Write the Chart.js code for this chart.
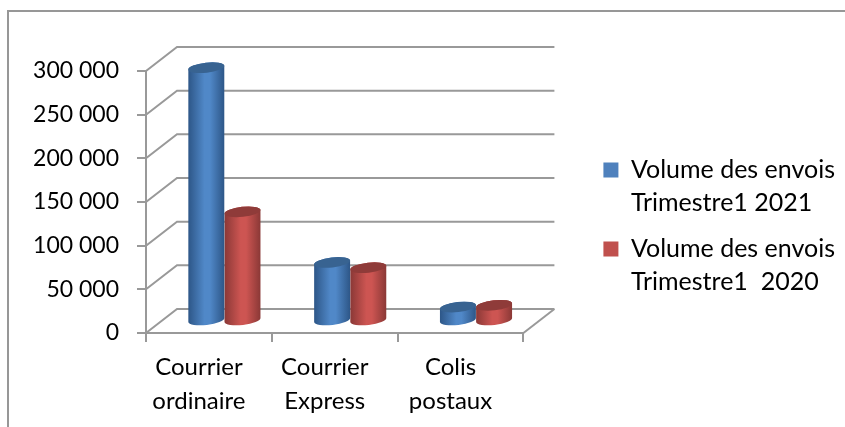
<!DOCTYPE html>
<html>
<head>
<meta charset="utf-8">
<style>
	html, body { margin: 0; padding: 0; background: #fff; }
	canvas { display: block; }
</style>
<script src="https://cdn.jsdelivr.net/npm/chart.js@4/dist/chart.umd.min.js"></script>
</head>
<body>
<canvas id="chart" width="845" height="427"></canvas>
<script>
var categories = [["Courrier", "ordinaire"], ["Courrier", "Express"], ["Colis", "postaux"]];
var label2021 = ["Volume des envois", "Trimestre1 2021"];
var label2020 = ["Volume des envois", "Trimestre1  2020"];
var volume2021 = [290000, 67000, 16000];
var volume2020 = [125000, 61000, 18000];

var GREY = "#999999";
var FONT = "Lato";
var DEPTH_X = 31;
var DEPTH_Y = 24;

/* colours of the cylinders: edge, middle, lid */
var SHADES = [
	{ edge: "#2d5687", mid: "#5088c8", lid: "#386391" },
	{ edge: "#8a3836", mid: "#cd5552", lid: "#8f3b39" }
];

function drawCylinder(ctx, bar, shade) {
	var rx = bar.width / 2;
	var ry = 5;
	var tilt = -0.11;
	var cx = bar.x + DEPTH_X / 2;
	var top = bar.y - DEPTH_Y / 2;
	var bottom = bar.base - DEPTH_Y / 2;

	var grad = ctx.createLinearGradient(cx - rx, 0, cx + rx, 0);
	grad.addColorStop(0, shade.edge);
	grad.addColorStop(0.45, shade.mid);
	grad.addColorStop(0.6, shade.mid);
	grad.addColorStop(1, shade.edge);

	ctx.beginPath();
	ctx.ellipse(cx, bottom, rx, ry, tilt, 0, Math.PI);
	ctx.ellipse(cx, top, rx, ry, tilt, Math.PI, 0);
	ctx.closePath();
	ctx.fillStyle = grad;
	ctx.fill();

	ctx.beginPath();
	ctx.ellipse(cx, top, rx, ry, tilt, 0, Math.PI * 2);
	ctx.fillStyle = shade.lid;
	ctx.fill();
}

var chart3d = {
	id: "chart3d",
	beforeDraw: function (chart) {
		/* frame of the picture, only top and left are visible */
		var ctx = chart.ctx;
		ctx.save();
		ctx.strokeStyle = "#979797";
		ctx.lineWidth = 2;
		ctx.beginPath();
		ctx.moveTo(8, 427);
		ctx.lineTo(8, 11);
		ctx.lineTo(845, 11);
		ctx.stroke();
		ctx.restore();
	},
	beforeDatasetsDraw: function (chart) {
		/* floor and back wall, one line per y tick */
		var ctx = chart.ctx;
		var y = chart.scales.y;
		var x = chart.scales.x;
		ctx.save();
		ctx.strokeStyle = GREY;
		ctx.lineWidth = 2;
		y.ticks.forEach(function (tick) {
			var py = y.getPixelForValue(tick.value);
			ctx.beginPath();
			ctx.moveTo(x.left, py);
			ctx.lineTo(x.left + DEPTH_X, py - DEPTH_Y);
			ctx.lineTo(x.right + DEPTH_X, py - DEPTH_Y);
			ctx.stroke();
		});
		var py0 = y.getPixelForValue(0);
		ctx.beginPath();
		ctx.moveTo(x.right + DEPTH_X, py0 - DEPTH_Y);
		ctx.lineTo(x.right, py0);
		ctx.stroke();
		ctx.restore();
	},
	beforeDatasetDraw: function (chart, args) {
		var ctx = chart.ctx;
		ctx.save();
		args.meta.data.forEach(function (bar) {
			drawCylinder(ctx, bar, SHADES[args.index]);
		});
		ctx.restore();
		return false;
	}
};

/* empty axes, only there to reserve room around the plot */
function spacer(position, size) {
	return {
		type: "linear",
		position: position,
		ticks: { display: false },
		grid: { display: false },
		border: { display: false },
		afterFit: function (scale) {
			if (position === "top") {
				scale.height = size;
			} else {
				scale.width = size;
			}
		}
	};
}

new Chart(document.getElementById("chart").getContext("2d"), {
	type: "bar",
	plugins: [chart3d],
	data: {
		labels: categories,
		datasets: [
			{ label: label2021, data: volume2021, backgroundColor: "#4f81bd", borderWidth: 0 },
			{ label: label2020, data: volume2020, backgroundColor: "#c0504d", borderWidth: 0 }
		]
	},
	options: {
		responsive: false,
		animation: false,
		categoryPercentage: 0.575,
		barPercentage: 1,
		layout: { padding: { top: 32, right: 0 } },
		plugins: {
			tooltip: { enabled: false },
			legend: {
				position: "right",
				maxWidth: 270,
				labels: {
					boxWidth: 15,
					boxHeight: 15,
					padding: 14,
					color: "#000",
					font: { family: FONT, size: 25, lineHeight: 1.3 }
				}
			}
		},
		scales: {
			x: {
				grid: { drawOnChartArea: false, color: GREY, lineWidth: 2, tickLength: 9, offset: true },
				border: { color: GREY, width: 2 },
				ticks: {
					color: "#000",
					labelOffset: -10,
					maxRotation: 0,
					padding: 8,
					font: { family: FONT, size: 24, lineHeight: 1.42 }
				},
				afterFit: function (scale) { scale.height = 94; }
			},
			y: {
				min: 0,
				max: 300000,
				grid: { drawOnChartArea: false, color: GREY, lineWidth: 2, tickLength: 9 },
				border: { color: GREY, width: 2 },
				ticks: {
					stepSize: 50000,
					color: "#000",
					padding: 18,
					font: { family: FONT, size: 23 },
					callback: function (value) {
						return String(value).replace(/\B(?=(\d{3})+$)/g, " ");
					}
				},
				afterFit: function (scale) { scale.width = 146; }
			},
			spaceTop: spacer("top", 39),
			spaceRight: spacer("right", 66)
		}
	}
});
</script>
</body>
</html>
